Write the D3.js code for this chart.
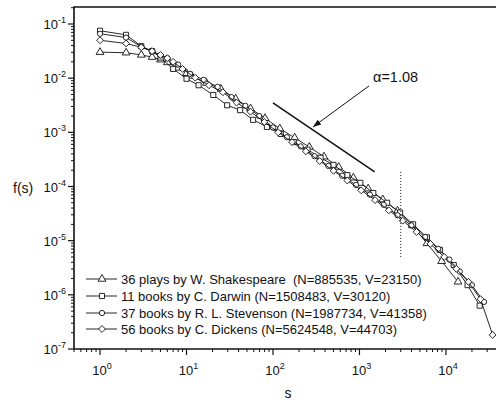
<!DOCTYPE html>
<html><head><meta charset="utf-8">
<script src="https://cdn.jsdelivr.net/npm/d3@7"></script>
<style>
html,body{margin:0;padding:0;background:#fff;}
svg{display:block;font-family:"Liberation Sans",Arial,sans-serif;}
text{white-space:pre;}
</style></head>
<body>
<svg id="c" width="496" height="402"></svg>
<script>
// ---- data ----
const seriesNames = [
  "36 plays by W. Shakespeare  (N=885535, V=23150)",
  "11 books by C. Darwin (N=1508483, V=30120)",
  "37 books by R. L. Stevenson (N=1987734, V=41358)",
  "56 books by C. Dickens (N=5624548, V=44703)"
];
const shakespeareS = [1,2,3,4,5,6,8,10,11.5,17,25,37,55,81,120,178,263,389,575,851,1259,1862,2754,4074,6026,8913,13800];
const shakespeareF = [0.0302,0.0295,0.0269,0.0245,0.0219,0.0195,0.0155,0.0123,0.0110,0.00813,0.00631,0.00417,0.00275,0.00182,0.00117,7.94e-4,5.37e-4,3.55e-4,2.29e-4,1.45e-4,9.12e-5,5.75e-5,3.55e-5,1.91e-5,8.91e-6,4.17e-6,1.74e-6];
const darwinS = [1,2,3,4,5,7,10,13.8,20.4,29.5,41.7,58.9,85.1,123,174,251,355,501,724,1023,1445,2089,2951,4169,6026,8511,12303,17783,24547];
const darwinF = [0.0750,0.0631,0.0389,0.0316,0.0240,0.0148,0.00977,0.00741,0.00490,0.00316,0.00257,0.00170,0.00126,9.33e-4,6.61e-4,4.79e-4,3.39e-4,2.51e-4,1.62e-4,1.17e-4,7.59e-5,5.01e-5,3.31e-5,2.00e-5,1.15e-5,6.76e-6,3.55e-6,1.51e-6,6.31e-7];
const stevensonS = [1,2,3,4,5,6,8,11,15.8,22.9,33.1,47.9,69.2,100,145,209,302,437,631,912,1318,1905,2754,3981,5754,8128,10965,14454,19953,27542];
const stevensonF = [0.0661,0.0562,0.0380,0.0309,0.0263,0.0234,0.0178,0.0120,0.00933,0.00692,0.00447,0.00309,0.00200,0.00123,8.13e-4,5.50e-4,3.63e-4,2.40e-4,1.58e-4,1.07e-4,7.08e-5,4.57e-5,2.95e-5,1.91e-5,1.17e-5,7.08e-6,4.47e-6,2.69e-6,1.51e-6,7.41e-7];
const dickensS = [1,2,3,4,5,6,7,9,12.6,18.2,26.3,38.0,55.0,79.4,115,166,240,347,501,724,1047,1514,2188,3162,4571,6607,9550,13183,18197,25119,34674];
const dickensF = [0.0501,0.0437,0.0372,0.0316,0.0269,0.0234,0.0200,0.0148,0.0102,0.00741,0.00550,0.00355,0.00240,0.00155,0.00100,6.61e-4,4.47e-4,2.95e-4,1.95e-4,1.29e-4,8.51e-5,5.62e-5,3.63e-5,2.34e-5,1.45e-5,8.71e-6,5.01e-6,3.02e-6,1.74e-6,8.32e-7,1.82e-7];
const xTickExps = [0,1,2,3,4];
const yTickExps = [-7,-6,-5,-4,-3,-2,-1];
const slopeLineS = [100,1500];
const slopeLineF = [3.5e-3,1.86e-4];
const arrowS = [1290,290];
const arrowF = [7.2e-3,1.26e-3];
const slopeLabel = "α=1.08";
const cutoffS = 3000;
const cutoffF = [1.86e-4,5e-6];

// ---- layout ----
const svg = d3.select("#c");
const x = d3.scaleLog().domain([0.5,40000]).range([74,498]);
const y = d3.scaleLog().domain([1e-7,0.2]).range([349,7.7]);
const L=74, T=7, B=349, R=498;
const ink="#111";

svg.append("defs").append("clipPath").attr("id","clip")
  .append("rect").attr("x",L).attr("y",T).attr("width",R-L).attr("height",B-T);

// ticks
const g = svg.append("g");
function minorVals(lo,hi){const v=[];for(let e=lo;e<hi;e++){for(let k=2;k<=9;k++){v.push(k*Math.pow(10,e));}}return v;}
const xMinor = minorVals(-1,5).filter(v=>v>=0.5&&v<=40000);
const yMinor = minorVals(-7,0).filter(v=>v>=1e-7&&v<=0.2);
g.selectAll(".xm").data(xMinor).join("line")
  .attr("x1",d=>x(d)).attr("x2",d=>x(d)).attr("y1",B).attr("y2",B+3).attr("stroke",ink).attr("stroke-width",1);
g.selectAll(".xM").data(xTickExps).join("line")
  .attr("x1",d=>x(Math.pow(10,d))).attr("x2",d=>x(Math.pow(10,d))).attr("y1",B).attr("y2",B+6).attr("stroke",ink).attr("stroke-width",1.2);
g.selectAll(".ym").data(yMinor).join("line")
  .attr("y1",d=>y(d)).attr("y2",d=>y(d)).attr("x1",L).attr("x2",L-3).attr("stroke",ink).attr("stroke-width",1);
g.selectAll(".yM").data(yTickExps).join("line")
  .attr("y1",d=>y(Math.pow(10,d))).attr("y2",d=>y(Math.pow(10,d))).attr("x1",L).attr("x2",L-6).attr("stroke",ink).attr("stroke-width",1.2);

// tick labels
const xl = g.selectAll(".xl").data(xTickExps).join("text")
  .attr("x",d=>x(Math.pow(10,d))+2).attr("y",B+26).attr("text-anchor","middle")
  .attr("font-size",13).attr("fill",ink);
xl.append("tspan").text("10");
xl.append("tspan").attr("dy",-6).attr("font-size",9).text(d=>String(d));
const yl = g.selectAll(".yl").data(yTickExps).join("text")
  .attr("x",66).attr("y",d=>y(Math.pow(10,d))+5).attr("text-anchor","end")
  .attr("font-size",13).attr("fill",ink);
yl.append("tspan").text("10");
yl.append("tspan").attr("dy",-6).attr("font-size",9).text(d=>String(d));

// axis titles
svg.append("text").attr("x",13).attr("y",193).attr("font-size",14).attr("fill",ink).text("f(s)");
svg.append("text").attr("x",288).attr("y",398).attr("text-anchor","middle").attr("font-size",14).attr("fill",ink).text("s");

// frame
svg.append("path").attr("d",`M${L},${B}V${T}H${R}`).attr("fill","none").attr("stroke",ink).attr("stroke-width",1.6);
svg.append("line").attr("x1",L).attr("x2",R).attr("y1",B).attr("y2",B).attr("stroke",ink).attr("stroke-width",1.6);

// series
const symbols=[d3.symbolTriangle,d3.symbolSquare,d3.symbolCircle,d3.symbolDiamond2];
const sizes=[26,26,22,30];
const series=[[shakespeareS,shakespeareF],[darwinS,darwinF],[stevensonS,stevensonF],[dickensS,dickensF]];
const plot=svg.append("g").attr("clip-path","url(#clip)");
const line=d3.line().x(d=>x(d[0])).y(d=>y(d[1]));
series.forEach((s,i)=>{
  const pts=s[0].map((v,j)=>[v,s[1][j]]);
  plot.append("path").datum(pts).attr("d",line).attr("fill","none").attr("stroke",ink).attr("stroke-width",0.9);
  plot.selectAll(null).data(pts).join("path")
    .attr("transform",d=>`translate(${x(d[0])},${y(d[1])})`)
    .attr("d",d3.symbol().type(symbols[i]).size(sizes[i]))
    .attr("fill","#fff").attr("stroke",ink).attr("stroke-width",0.9);
});

// slope line + arrow + label
plot.append("line").attr("x1",x(slopeLineS[0])).attr("y1",y(slopeLineF[0])).attr("x2",x(slopeLineS[1])).attr("y2",y(slopeLineF[1]))
  .attr("stroke",ink).attr("stroke-width",1.5);
const ax1=x(arrowS[0]),ay1=y(arrowF[0]),ax2=x(arrowS[1]),ay2=y(arrowF[1]);
svg.append("line").attr("x1",ax1).attr("y1",ay1).attr("x2",ax2).attr("y2",ay2).attr("stroke",ink).attr("stroke-width",1);
const ang=Math.atan2(ay2-ay1,ax2-ax1);
const hl=8,hw=3;
const hx=ax2-hl*Math.cos(ang),hy=ay2-hl*Math.sin(ang);
svg.append("path").attr("d",`M${ax2},${ay2}L${hx+hw*Math.sin(ang)},${hy-hw*Math.cos(ang)}L${hx-hw*Math.sin(ang)},${hy+hw*Math.cos(ang)}Z`).attr("fill",ink);
svg.append("text").attr("x",373).attr("y",82).attr("font-size",14.5).attr("fill",ink).text(slopeLabel);

// dotted cutoff
plot.append("line").attr("x1",x(cutoffS)).attr("x2",x(cutoffS)).attr("y1",y(cutoffF[0])).attr("y2",y(cutoffF[1]))
  .attr("stroke",ink).attr("stroke-width",1).attr("stroke-dasharray","1,2");

// legend
const leg=svg.append("g");
const rowY=[279,296,313,329];
seriesNames.forEach((n,i)=>{
  leg.append("line").attr("x1",86).attr("x2",117).attr("y1",rowY[i]).attr("y2",rowY[i]).attr("stroke",ink).attr("stroke-width",0.9);
  leg.append("path").attr("transform",`translate(102,${rowY[i]})`).attr("d",d3.symbol().type(symbols[i]).size(sizes[i]))
    .attr("fill","#fff").attr("stroke",ink).attr("stroke-width",0.9);
  leg.append("text").attr("x",121).attr("y",rowY[i]+5).attr("font-size",13).attr("fill",ink).text(n);
});
</script>
</body></html>
